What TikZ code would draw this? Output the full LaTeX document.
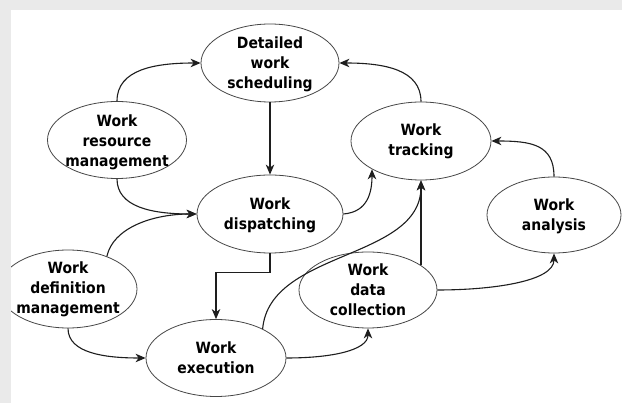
\documentclass[tikz,border=0pt]{standalone}
\usepackage{fontspec}
\newfontfamily\lblfam{DejaVu Sans}[FakeStretch=0.9]
\usetikzlibrary{shapes.geometric,arrows.meta}
\definecolor{bordergray}{RGB}{234,234,234}
\definecolor{edgecol}{RGB}{30,30,30}
\definecolor{ellcol}{RGB}{70,70,70}
\begin{document}
\begin{tikzpicture}[x=1pt,y=-1pt,
  el/.style={draw=ellcol, line width=0.8pt, ellipse, inner sep=0pt},
  lbl/.style={font=\lblfam\bfseries\fontsize{15.5}{20}\selectfont, align=center, inner sep=0pt, text=black},
  conn/.style={draw=edgecol, line width=1.1pt, -{Stealth[length=10pt,width=8.5pt,inset=3pt]}}
]
\useasboundingbox (0,0) rectangle (622,403);
\fill[white] (0,0) rectangle (622,403);

% ellipses
\node[el, minimum width=138pt, minimum height=78pt] (det) at (270,63) {};
\node[el, minimum width=139pt, minimum height=77pt] (wrm) at (117,140) {};
\node[el, minimum width=140pt, minimum height=78pt] (trk) at (421,141) {};
\node[el, minimum width=146pt, minimum height=78pt] (dsp) at (270,214) {};
\node[el, minimum width=134pt, minimum height=76pt] (ana) at (554,215) {};
\node[el, minimum width=138pt, minimum height=78pt] (wdm) at (68,289) {};
\node[el, minimum width=138pt, minimum height=76pt] (dat) at (368,290) {};
\node[el, minimum width=140pt, minimum height=77pt] (exe) at (216,358) {};

% labels
\node[lbl] (detT) at (270,64) {Detailed\\work\\scheduling};
\node[lbl] (wrmT) at (117,142) {Work\\resource\\management};
\node[lbl] (trkT) at (421,141) {Work\\tracking};
\node[lbl] (dspT) at (270,215) {Work\\dispatching};
\node[lbl] (anaT) at (554,216) {Work\\analysis};
\node[lbl] (wdmT) at (68,289) {Work\\definition\\management};
\node[lbl] (datT) at (368,290) {Work\\data\\collection};
\node[lbl] (exeT) at (216,358) {Work\\execution};

% connectors
\draw[conn] (wrm.north) .. controls +(0,-32) and +(-45,0) .. (det.west);
\draw[conn] (trk.north) .. controls +(0,-32) and +(45,0) .. (det.east);
\draw[conn] (det.south) -- (dsp.north);
\draw[conn] (wrm.south) .. controls +(0,28) and +(-45,0) .. (dsp.west);
\draw[conn] (wdm.40) .. controls +(6,-28) and +(-45,0) .. (dsp.west);
\draw[conn] (dsp.east) .. controls +(25,-2) and +(0,22) .. (trk.210);
\draw[conn] (ana.north) .. controls +(0,-32) and +(40,0) .. (trk.east);
\draw[conn] (dsp.south) -- ++(0,19) -| (exe.north);
\draw[conn] (exe.32) .. controls +(7,-79) and +(0,80) .. (trk.south);
\draw[conn] (trk.south |- dat.25) -- (trk.south);
\draw[conn] (dat.east) .. controls +(55,0) and +(0,28) .. (ana.south);
\draw[conn] (exe.east) .. controls +(45,0) and +(0,22) .. (dat.south);
\draw[conn] (wdm.south) .. controls +(0,25) and +(-40,0) .. (exe.west);

% page border
\fill[bordergray] (0,0) rectangle (622,10);
\fill[bordergray] (0,0) rectangle (11,403);
\end{tikzpicture}
\end{document}
